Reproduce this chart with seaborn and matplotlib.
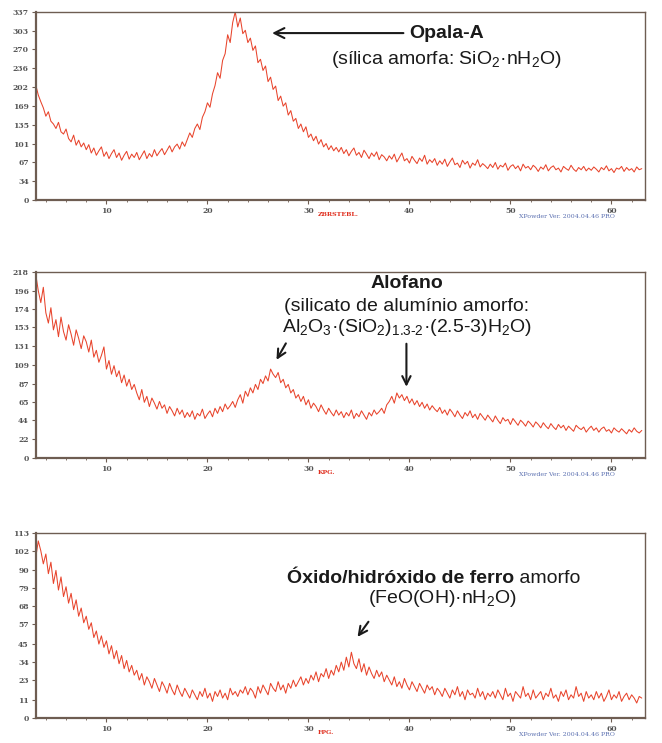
import numpy as np
import pandas as pd
import matplotlib
matplotlib.use("Agg")
import matplotlib.pyplot as plt
import seaborn as sns

sns.set_style("ticks")
plt.rcParams['font.family'] = ['Liberation Sans', 'DejaVu Sans']
plt.rcParams['mathtext.fontset'] = 'custom'
plt.rcParams['mathtext.rm'] = 'Liberation Sans'
plt.rcParams['mathtext.it'] = 'Liberation Sans'

# ---------------- data ----------------
# 2-theta grid, one point every 0.25 degree from 3 to 63
two_theta = np.arange(3.0, 63.001, 0.25)

opala = [
    206, 188, 176, 165, 150, 158, 141, 136, 128, 139, 122, 118, 127, 110, 104, 116, 98, 107, 95, 102,
    90, 99, 84, 93, 80, 88, 95, 78, 86, 74, 83, 90, 76, 84, 71, 80, 87, 73, 82, 76,
    85, 72, 80, 88, 74, 83, 77, 90, 79, 86, 92, 81, 89, 97, 86, 95, 100, 91, 104, 96,
    108, 120, 112, 128, 136, 126, 148, 158, 174, 166, 190, 205, 228, 218, 250, 262, 296, 282, 318, 337,
    310, 326, 298, 304, 282, 290, 268, 276, 246, 252, 232, 240, 212, 220, 198, 204, 178, 186, 168, 174,
    152, 160, 141, 146, 128, 136, 122, 131, 112, 118, 106, 114, 100, 108, 95, 101, 90, 97, 88, 94,
    86, 94, 83, 90, 79, 87, 93, 80, 85, 76, 89, 82, 74, 84, 78, 86, 72, 81, 77, 70,
    79, 73, 82, 68, 76, 84, 70, 74, 66, 78, 71, 65, 75, 69, 80, 64, 72, 67, 74, 62,
    70, 64, 73, 60, 68, 75, 63, 66, 58, 71, 64, 69, 57, 66, 62, 72, 59, 65, 61, 56,
    64, 58, 67, 55, 62, 59, 66, 53, 60, 63, 56, 61, 52, 64, 57, 60, 54, 62, 58, 51,
    59, 55, 63, 52, 58, 61, 54, 57, 50, 60, 56, 53, 62, 55, 51, 58, 54, 60, 52, 57,
    53, 59, 55, 50, 58, 54, 61, 52, 56, 49, 57, 55, 60, 51, 58, 53, 56, 50, 59, 54,
    56,
]

alofano = [
    215, 196, 182, 200, 170, 158, 176, 150, 162, 142, 165, 148, 138, 156, 145, 132, 150, 140, 128, 143,
    136, 124, 138, 118, 126, 112, 120, 130, 104, 114, 98, 108, 95, 102, 88, 97, 84, 92, 80, 86,
    76, 68, 80, 65, 72, 60, 70, 64, 57, 66, 58, 62, 52, 60, 55, 49, 58, 51, 56, 47,
    53, 48, 55, 45, 52, 49, 57, 46, 51, 55, 48, 58, 52, 60, 54, 63, 57, 61, 66, 59,
    68, 74, 64, 78, 72, 82, 76, 86, 80, 92, 87, 96, 90, 104, 98, 94, 100, 88, 92, 82,
    86, 76, 80, 70, 74, 66, 72, 62, 68, 58, 64, 60, 54, 62, 56, 51, 58, 53, 49, 56,
    50, 54, 47, 53, 49, 56, 46, 52, 48, 55, 50, 45, 53, 49, 56, 51, 54, 58, 52, 62,
    66, 72, 64, 76, 70, 74, 67, 72, 64, 69, 62, 67, 60, 65, 58, 63, 56, 61, 57, 54,
    59, 52, 56, 50, 57, 53, 48, 55, 50, 46, 53, 49, 55, 47, 51, 45, 52, 48, 44, 50,
    46, 42, 49, 44, 40, 47, 43, 45, 39, 46, 42, 38, 44, 41, 37, 43, 40, 36, 42, 39,
    35, 41, 37, 34, 40, 36, 33, 39, 35, 38, 32, 37, 34, 31, 38, 35, 33, 36, 30, 34,
    37, 32, 35, 30, 34, 36, 31, 33, 29, 35, 32, 30, 34, 31, 28, 33, 30, 35, 31, 29,
    32,
]

ferro = [
    98, 108, 102, 94, 100, 88, 95, 82, 90, 78, 86, 74, 80, 70, 76, 66, 72, 62, 67, 58,
    62, 54, 58, 49, 53, 45, 50, 43, 47, 39, 44, 36, 41, 33, 38, 30, 35, 28, 32, 26,
    29, 23, 27, 20, 25, 22, 18, 24, 20, 16, 22, 19, 15, 21, 17, 14, 20, 16, 13, 18,
    15, 12, 17, 14, 11, 16, 13, 18, 12, 15, 10, 16, 13, 17, 12, 15, 11, 18, 14, 16,
    13, 17, 15, 19, 14, 18, 16, 12, 19, 15, 20, 17, 14, 21, 18, 16, 22, 17, 20, 15,
    21, 18, 23, 19, 22, 25, 20, 24, 21, 26, 23, 28, 22, 27, 25, 30, 24, 29, 26, 32,
    28, 34, 29, 37, 31, 40, 33, 30, 36, 28, 33, 26, 31, 27, 24, 29, 25, 28, 22, 26,
    23, 20, 25, 19, 22, 18, 24, 20, 17, 22, 19, 16, 21, 18, 15, 20, 17, 19, 14, 18,
    16, 13, 18, 15, 12, 17, 14, 19, 13, 16, 11, 17, 14, 15, 12, 18, 13, 16, 11, 15,
    13, 16, 12, 17, 14, 11, 18, 13, 15, 10, 16, 14, 12, 19, 13, 15, 11, 17, 12, 14,
    16, 11, 15, 13, 18, 12, 14, 10, 16, 13, 17, 11, 14, 12, 19, 13, 15, 10, 16, 12,
    14, 11, 16, 12, 15, 10, 13, 17, 11, 14, 12, 16, 10, 13, 15, 11, 14, 12, 9, 13,
    12,
]

y_max = [337, 218, 113]
y_ticks = [
    [0, 34, 67, 101, 135, 169, 202, 236, 270, 303, 337],
    [0, 22, 44, 65, 87, 109, 131, 153, 174, 196, 218],
    [0, 11, 23, 34, 45, 57, 68, 79, 90, 102, 113],
]
x_ticks = [10, 20, 30, 40, 50, 60]
sample_names = ["ZBRSTEBL.", "KPG.", "FPG."]
series = [opala, alofano, ferro]

# ---------------- figure ----------------
fig = plt.figure(figsize=(6.62, 7.43), dpi=100)
positions = [
    [0.054, 0.731, 0.920, 0.253],
    [0.054, 0.384, 0.920, 0.250],
    [0.054, 0.034, 0.920, 0.249],
]
line_col = "#e8442c"
spine_col = "#6e5d52"
txt_col = "#1a1a1a"
fs = 14

axes = []
for i, pos in enumerate(positions):
    ax = fig.add_axes(pos)
    df = pd.DataFrame({"2theta": two_theta, "counts": series[i]})
    sns.lineplot(data=df, x="2theta", y="counts", ax=ax, color=line_col, linewidth=0.75)
    ax.set_xlim(3, 63.3)
    ax.set_ylim(0, y_max[i])
    ax.set_xlabel("")
    ax.set_ylabel("")
    ax.set_yticks(y_ticks[i])
    ax.set_yticklabels([str(t) for t in y_ticks[i]], fontsize=5.5,
                       family="DejaVu Serif", color="#555555", fontweight="bold")
    ax.set_xticks(x_ticks)
    ax.set_xticklabels([str(t) for t in x_ticks], fontsize=5.5,
                       family="DejaVu Serif", color="#555555", fontweight="bold")
    ax.set_xticks(np.arange(4, 63, 2), minor=True)
    ax.tick_params(axis="both", which="major", length=3, width=0.8, color=spine_col, pad=2)
    ax.tick_params(axis="both", which="minor", length=1.5, width=0.6, color=spine_col)
    for side in ["top", "right", "left", "bottom"]:
        ax.spines[side].set_visible(True)
        ax.spines[side].set_color(spine_col)
    ax.spines["left"].set_linewidth(1.6)
    ax.spines["bottom"].set_linewidth(1.6)
    ax.spines["top"].set_linewidth(1.0)
    ax.spines["right"].set_linewidth(1.0)
    ax.text(30.9, -0.065 * y_max[i], sample_names[i], color="#e03020",
            fontsize=4.5, fontweight="bold", family="DejaVu Serif", ha="left", va="top")
    ax.text(50.8, -0.075 * y_max[i], "XPowder Ver. 2004.04.46 PRO", color="#5a6fb0",
            fontsize=4.5, family="DejaVu Serif", ha="left", va="top")
    axes.append(ax)

# ---------------- annotations ----------------
ax1, ax2, ax3 = axes
ax1.annotate("Opala-A", xy=(26.4, 299), xytext=(40.0, 299), fontsize=fs,
             fontweight="bold", ha="left", va="center", color=txt_col,
             arrowprops=dict(arrowstyle="->", color=txt_col, lw=1.5,
                             mutation_scale=18, shrinkA=2, shrinkB=0))
ax1.text(43.7, 251, "(sílica amorfa: SiO$_2$·nH$_2$O)", fontsize=fs,
         ha="center", va="center", color=txt_col)

ax2.text(39.7, 205, "Alofano", fontsize=fs, fontweight="bold",
         ha="center", va="center", color=txt_col)
ax2.text(39.7, 177, "(silicato de alumínio amorfo:", fontsize=fs,
         ha="center", va="center", color=txt_col)
ax2.text(39.7, 153, "Al$_2$O$_3$·(SiO$_2$)$_{1.3\u20102}$·(2.5-3)H$_2$O)", fontsize=fs,
         ha="center", va="center", color=txt_col)
ax2.annotate("", xy=(26.7, 112), xytext=(27.9, 137),
             arrowprops=dict(arrowstyle="->", color=txt_col, lw=1.5, mutation_scale=15))
ax2.annotate("", xy=(39.7, 80), xytext=(39.7, 137),
             arrowprops=dict(arrowstyle="->", color=txt_col, lw=1.5, mutation_scale=15))

t_bold = ax3.text(27.9, 85, "Óxido/hidróxido de ferro", fontsize=fs, fontweight="bold",
                  ha="left", va="center", color=txt_col)
ax3.annotate(" amorfo", xy=(1, 0.5), xycoords=t_bold, fontsize=fs,
             ha="left", va="center", color=txt_col)
ax3.text(43.3, 73, "(FeO(OH)·nH$_2$O)", fontsize=fs,
         ha="center", va="center", color=txt_col)
ax3.annotate("", xy=(34.7, 48), xytext=(36.1, 60),
             arrowprops=dict(arrowstyle="->", color=txt_col, lw=1.5, mutation_scale=15))

fig.savefig("out.png", dpi=100, facecolor="white")
